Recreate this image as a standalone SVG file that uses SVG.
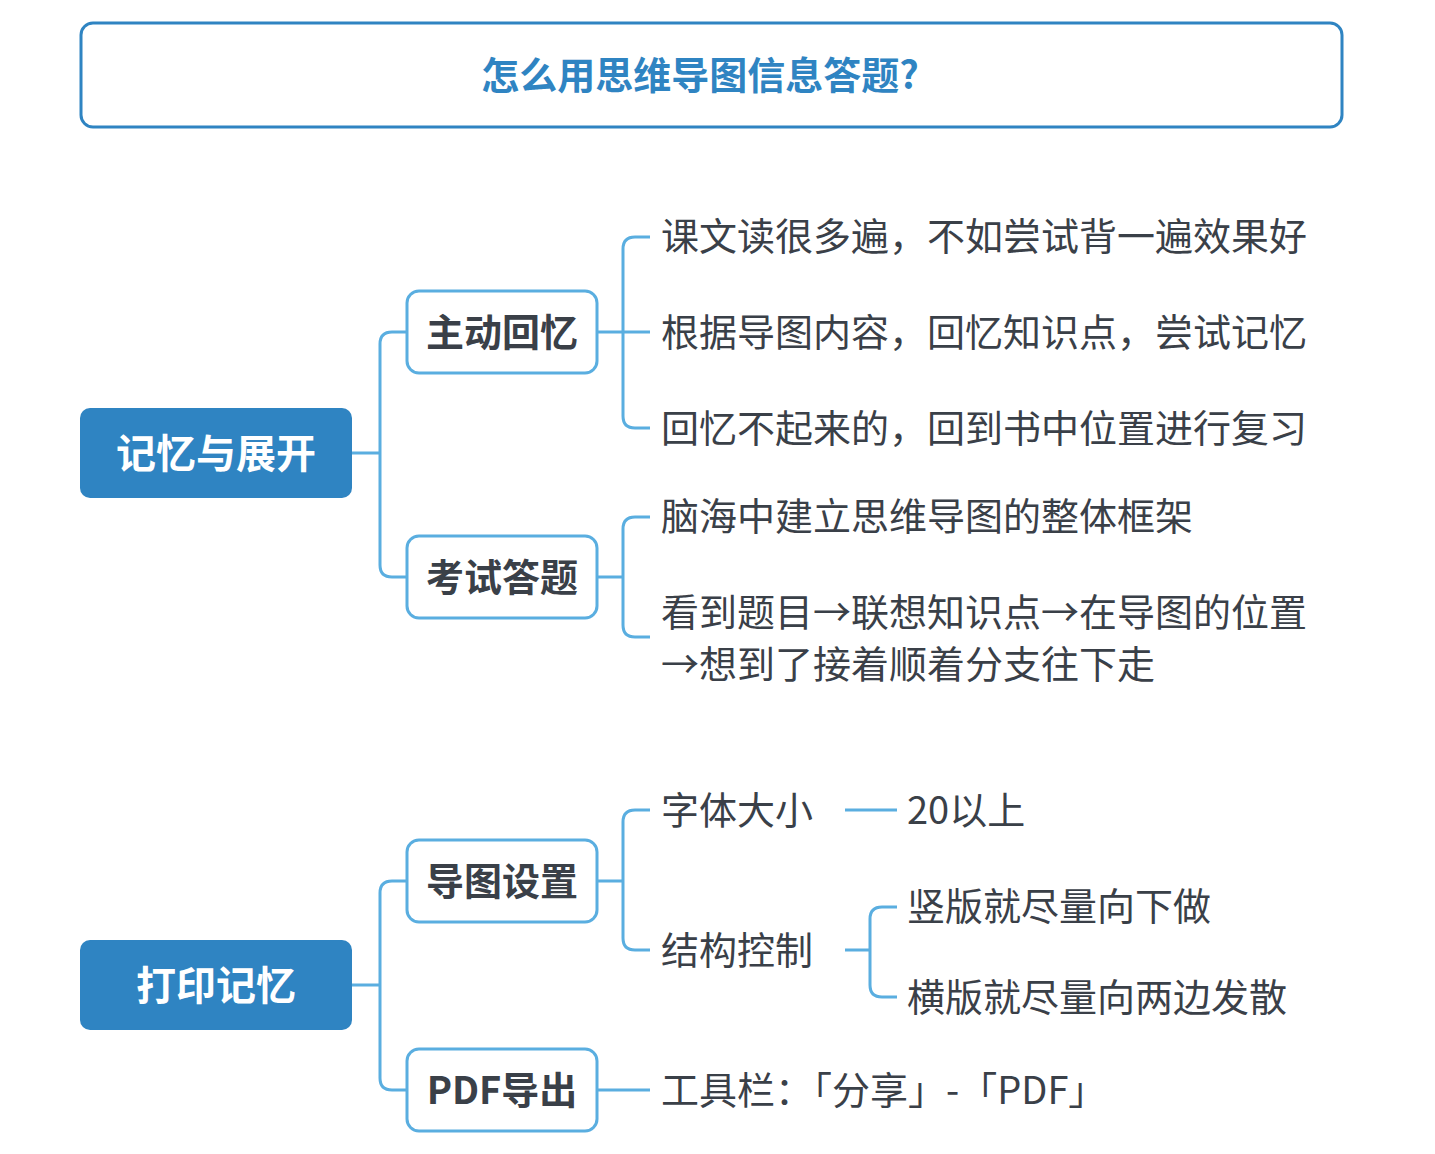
<svg xmlns="http://www.w3.org/2000/svg" width="1435" height="1154" viewBox="0 0 1435 1154">
<style>
text{font-family:"Noto Sans CJK SC","Noto Sans",sans-serif}
.root rect{fill:#2f84c2}
.root text{fill:#fff;font-size:40px;font-weight:bold;text-anchor:middle}
.sub rect{fill:#fff;stroke:#5aaee0;stroke-width:3}
.sub text{fill:#3a4048;font-size:38px;font-weight:bold;text-anchor:middle}
.leaf{fill:#3a4048;font-size:38px}
.c{fill:none;stroke:#5aaee0;stroke-width:3}
</style>
<rect width="1435" height="1154" fill="#fff"/>
<g id="title"><rect x="81" y="23" width="1261" height="104" rx="12" fill="#fff" stroke="#2f84c2" stroke-width="3"/>
<text x="700" y="89" font-size="38" font-weight="bold" fill="#2f84c2" text-anchor="middle">怎么用思维导图信息答题?</text></g>
<g id="connectors">
<path class="c" d="M352 453H380 M407 332H392Q380 332 380 344V565Q380 577 392 577H407"/>
<path class="c" d="M352 985H380 M407 881H392Q380 881 380 893V1078Q380 1090 392 1090H407"/>
<path class="c" d="M597 332H650 M650 237H635Q623 237 623 249V416Q623 428 635 428H650"/>
<path class="c" d="M597 577H623 M650 517H635Q623 517 623 529V625Q623 637 635 637H650"/>
<path class="c" d="M597 881H623 M650 810H635Q623 810 623 822V938Q623 950 635 950H650"/>
<path class="c" d="M845 810H897 M845 950H870 M897 907H882Q870 907 870 919V985Q870 997 882 997H897"/>
<path class="c" d="M597 1090H650"/>
</g>
<g id="n1" class="root"><rect x="80" y="408" width="272" height="90" rx="10"/><text x="216" y="468">记忆与展开</text></g>
<g id="n2" class="root"><rect x="80" y="940" width="272" height="90" rx="10"/><text x="216" y="1000">打印记忆</text></g>
<g id="n3" class="sub"><rect x="407" y="291" width="190" height="82" rx="12"/><text x="502" y="346">主动回忆</text></g>
<g id="n4" class="sub"><rect x="407" y="536" width="190" height="82" rx="12"/><text x="502" y="591">考试答题</text></g>
<g id="n5" class="sub"><rect x="407" y="840" width="190" height="82" rx="12"/><text x="502" y="895">导图设置</text></g>
<g id="n6" class="sub"><rect x="407" y="1049" width="190" height="82" rx="12"/><text x="502" y="1104">PDF导出</text></g>
<g id="leaves">
<text class="leaf" x="661" y="250">课文读很多遍，不如尝试背一遍效果好</text>
<text class="leaf" x="661" y="346">根据导图内容，回忆知识点，尝试记忆</text>
<text class="leaf" x="661" y="442">回忆不起来的，回到书中位置进行复习</text>
<text class="leaf" x="661" y="530">脑海中建立思维导图的整体框架</text>
<text class="leaf" x="661" y="626">看到题目→联想知识点→在导图的位置</text>
<text class="leaf" x="661" y="678">→想到了接着顺着分支往下走</text>
<text class="leaf" x="661" y="824">字体大小</text>
<text class="leaf" x="907" y="824">20以上</text>
<text class="leaf" x="661" y="964">结构控制</text>
<text class="leaf" x="907" y="920">竖版就尽量向下做</text>
<text class="leaf" x="907" y="1011">横版就尽量向两边发散</text>
<text class="leaf" x="661" y="1104">工具栏：「分享」-「PDF」</text>
</g>
</svg>
